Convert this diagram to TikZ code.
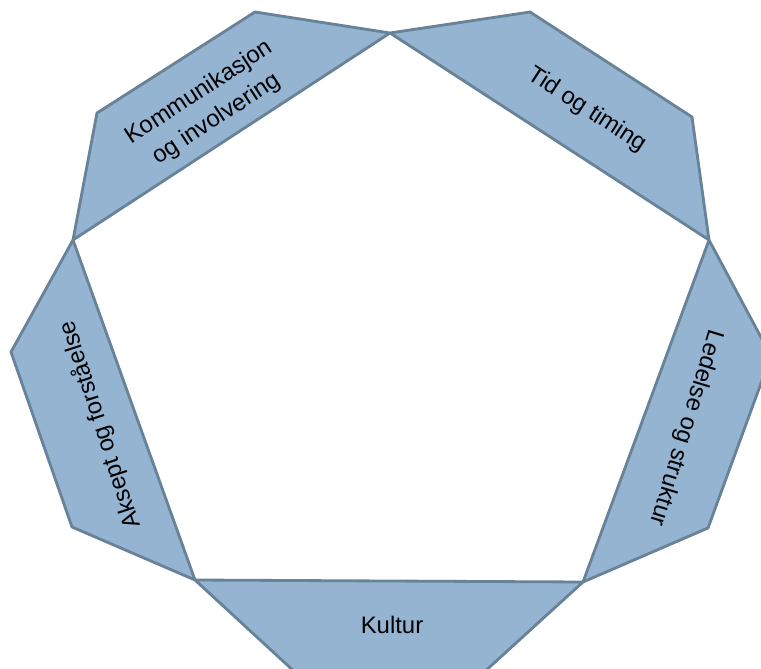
\documentclass[tikz,border=0pt]{standalone}
\usepackage{fontspec}
\setmainfont{Liberation Sans}
\definecolor{segfill}{RGB}{148,180,210}
\definecolor{segline}{RGB}{104,130,152}

\begin{document}
\begin{tikzpicture}[x=0.025cm, y=-0.025cm,
	seg/.style={fill=segfill, draw=segline, line width=2pt, line join=round},
	segtext/.style={font=\fontsize{17}{22.5}\selectfont, align=center, inner sep=0pt}]
	\useasboundingbox (0, 0) rectangle (761, 669);
	% Corners of the pentagon:
	\coordinate (top) at (390, 33);
	\coordinate (rgt) at (709, 240);
	\coordinate (brt) at (583, 582);
	\coordinate (blf) at (195, 580);
	\coordinate (lft) at (73, 240);
	% Segments round the pentagon:
	\draw[seg] (lft) -- (97, 113) -- (255, 12) -- (top) -- cycle;
	\draw[seg] (top) -- (530, 12) -- (692, 117) -- (rgt) -- cycle;
	\draw[seg] (rgt) -- (771, 356) -- (708, 528) -- (brt) -- cycle;
	\draw[seg] (brt) -- (482, 674) -- (297, 674) -- (blf) -- cycle;
	\draw[seg] (blf) -- (72, 527) -- (11, 352) -- (lft) -- cycle;
	% Labels:
	\node[segtext, rotate=33.3] (komm) at (208, 106) {Kommunikasjon\\og involvering};
	\node[segtext, rotate=-33] (tid) at (587, 110) {Tid og timing};
	\node[segtext, rotate=-107] (ledelse) at (686, 428) {Ledelse og struktur};
	\node[segtext] (kultur) at (392, 625) {Kultur};
	\node[segtext, rotate=108] (aksept) at (100, 425) {Aksept og forståelse};
\end{tikzpicture}
\end{document}
